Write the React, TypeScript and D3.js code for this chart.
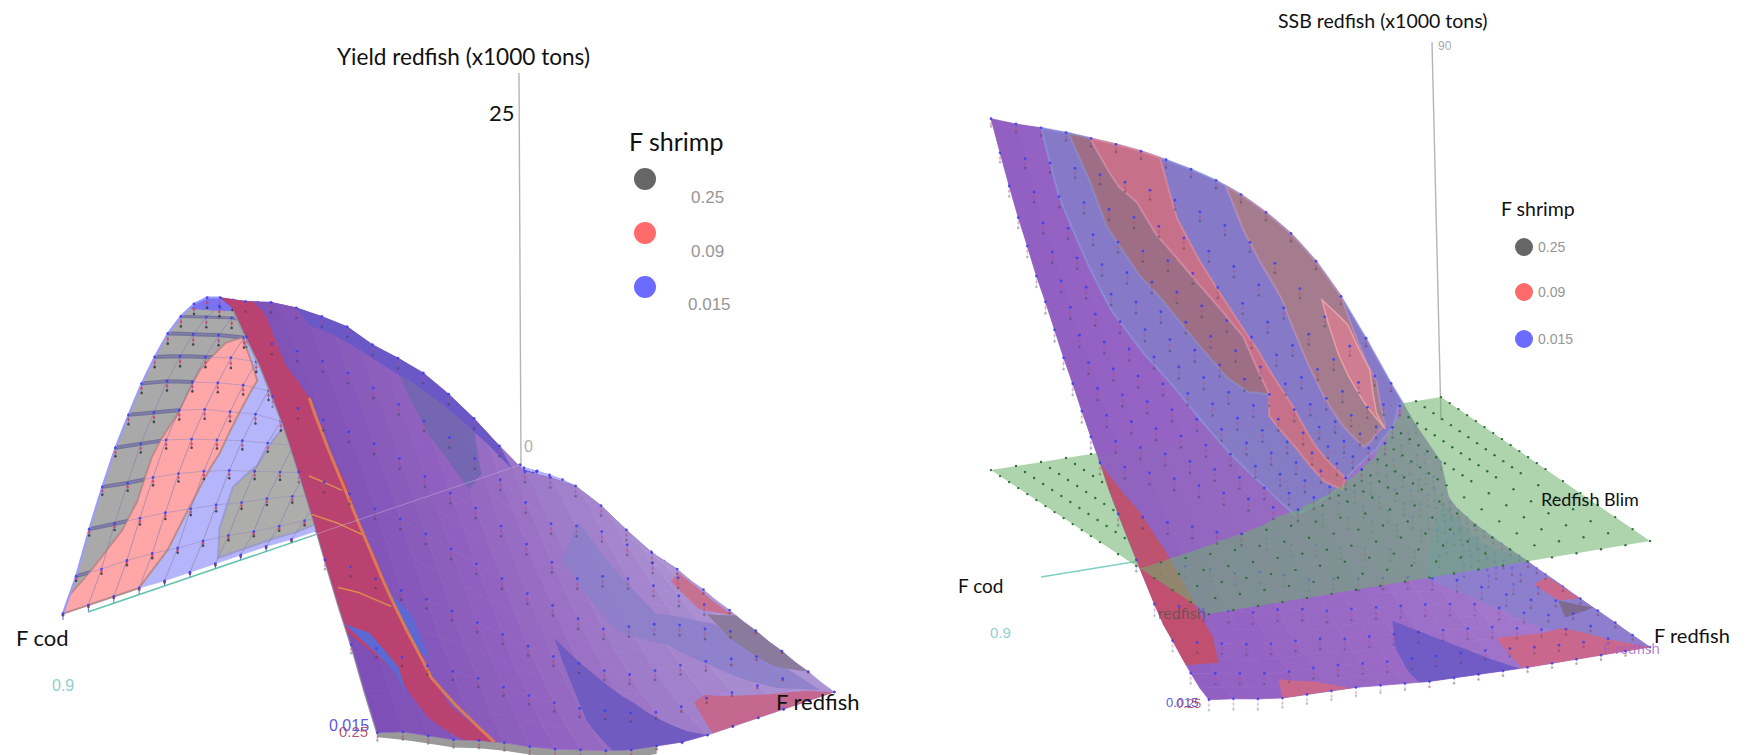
import React from "react";
import * as d3 from "d3";

// ---------- data ----------
const fRedfishSteps = d3.range(25); // grid columns along the F redfish axis
const shownSteps = (u: number) => u <= 12 || u % 2 === 0; // sampled points: fine at low F, coarser after
// Each row is one F cod level; first row F cod = 0.9, last row F cod = 0. Values: x1000 tons.
const yieldRows: number[][] = [
  [0.4,3.4,7,10.3,13.4,16.1,18.7,21,23.1,24.8,26.2,27.2,27.8,27.7,26.5,25.4,23.9,22.3,20.3,18.2,15.9,13.7,11.7,9.4,7.3],
  [0.4,3.3,6.8,10,13.1,15.7,18.3,20.5,22.5,24.2,25.5,26.5,27,26.9,25.5,24.3,22.6,21.1,19.1,17.1,14.9,12.8,10.9,8.8,6.8],
  [0.4,3.3,6.6,9.8,12.8,15.3,17.7,19.9,21.9,23.6,24.9,25.8,26.4,26,24.5,23.1,21.3,19.7,17.8,15.8,13.6,11.6,9.8,7.8,6],
  [0.4,3.2,6.4,9.5,12.3,14.8,17.1,19.3,21.2,22.7,24.1,25,25.5,25,23.3,21.9,20,18.3,16.3,14.4,12.3,10.4,8.7,6.8,5.2],
  [0.3,3,6.1,9.1,11.7,14.1,16.4,18.5,20.3,21.7,23,23.9,24.4,23.8,22,20.6,18.7,17,15.1,13.2,11.2,9.4,7.8,6.1,4.6],
  [0.3,2.9,5.8,8.6,11.1,13.4,15.5,17.4,19.2,20.6,21.8,22.6,23.2,22.3,20.5,19.1,17.2,15.5,13.6,11.8,9.9,8.2,6.8,5.2,3.9],
  [0.3,2.7,5.4,8,10.4,12.4,14.5,16.3,18,19.2,20.3,21.1,21.5,20.7,18.9,17.4,15.5,13.9,12.1,10.3,8.6,7,5.7,4.3,3.1],
  [0.3,2.4,5.1,7.4,9.7,11.6,13.6,15.2,16.7,18,19,19.7,20.1,19.2,17.3,15.8,13.9,12.3,10.6,8.9,7.3,5.8,4.6,3.4,2.4],
  [0.3,2.2,4.7,6.8,9,10.7,12.4,14.1,15.4,16.5,17.5,18.2,18.6,17.5,15.7,14.1,12.4,10.7,9.1,7.5,6,4.7,3.6,2.6,1.8],
  [0.2,2,4.2,6.2,8.1,9.7,11.2,12.6,13.9,14.9,15.8,16.3,16.7,15.6,13.8,12.4,10.7,9.2,7.6,6.2,4.8,3.7,2.7,1.8,1.2],
  [0.2,1.8,3.7,5.4,7,8.5,9.8,11,12.1,13.1,13.8,14.3,14.6,13.6,11.9,10.5,9,7.6,6.3,5,3.8,2.8,2,1.3,0.7],
  [0.2,1.5,3.1,4.6,5.9,7.1,8.3,9.3,10.2,11,11.6,12,12.3,11.4,9.9,8.7,7.3,6.1,4.9,3.8,2.8,2,1.3,0.8,0.4],
  [0.1,1.2,2.6,3.8,4.9,5.8,6.7,7.7,8.4,9,9.5,9.9,10.1,9.2,8,6.9,5.7,4.7,3.7,2.8,2,1.3,0.8,0.4,0.1],
  [0.1,1.1,2.3,3.4,4.4,5.3,6.2,6.9,7.6,8.2,8.6,9,9.2,8.3,7.3,6.3,5.3,4.3,3.3,2.5,1.7,1.1,0.6,0.3,0],
  [0.1,1,2,3,3.9,4.7,5.4,6.1,6.7,7.2,7.6,7.9,8.1,7.4,6.4,5.5,4.6,3.8,2.9,2.2,1.5,1,0.6,0.2,0],
  [0.1,0.8,1.6,2.3,3,3.6,4.2,4.7,5.2,5.6,5.9,6.1,6.3,5.7,5,4.3,3.6,2.9,2.3,1.7,1.2,0.8,0.4,0.2,0],
  [0.1,0.5,1.1,1.5,2,2.4,2.8,3.2,3.5,3.7,3.9,4.1,4.2,3.8,3.3,2.9,2.4,1.9,1.5,1.1,0.8,0.5,0.3,0.1,0],
  [0,0.3,0.6,0.8,1.1,1.3,1.5,1.7,1.8,2,2.1,2.2,2.2,2,1.8,1.5,1.3,1,0.8,0.6,0.4,0.3,0.2,0.1,0],
  [0,0.1,0.1,0.2,0.3,0.3,0.4,0.4,0.5,0.5,0.5,0.5,0.6,0.5,0.5,0.4,0.4,0.3,0.3,0.2,0.2,0.1,0.1,0,0],
];
const ssbRows: number[][] = [
  [89.3,83.9,78.7,73.8,69.5,64.9,61.1,56.9,52.7,48.9,44.8,41,37.2,33.1,29.7,26.4,23.2,20.1,17,14.2,12.3,10.3,8.4,6.7,5.6],
  [87.5,82,76.8,72,67.6,63.2,59.3,55.1,51,47.2,43.2,39.4,35.6,31.7,28.3,25,21.9,18.8,15.8,13.2,11.2,9.4,7.6,6,5],
  [86,80.4,75.1,70.2,65.7,61.2,57.2,53,49,45.2,41.2,37.4,33.7,29.9,26.5,23.5,20.4,17.4,14.5,12,10.2,8.4,6.8,5.3,4.2],
  [84.3,78.6,73.2,68.2,63.6,59.1,55,50.9,46.9,43.1,39.1,35.4,31.8,28.2,24.9,22,19,16.1,13.4,11,9.3,7.6,6,4.6,3.6],
  [82.4,76.6,71.1,66,61.3,56.8,52.7,48.6,44.6,40.8,36.9,33.2,29.7,26.3,23.1,20.4,17.5,14.8,12.3,10.2,8.6,7,5.6,4.4,3.5],
  [80.5,74.4,68.8,63.5,58.7,54.2,50,45.9,42,38.2,34.4,30.9,27.5,24.6,22,19.5,17,14.5,12.1,10,8.4,6.9,5.5,4.4,3.4],
  [78.4,72.1,66.3,60.9,56,51.4,47.2,43.1,39.2,35.5,31.9,28.6,25.6,23,20.3,17.9,15.6,13.4,11.4,9.6,8,6.6,5.3,4.2,3.3],
  [76,69.4,63.3,57.7,52.6,47.9,43.6,39.5,35.7,32.1,28.8,25.8,23.2,20.7,18.3,16.1,14,12.1,10.3,8.7,7.2,5.9,4.8,3.8,2.9],
  [73.4,66.4,60,54.2,49,44.4,40.1,36.2,32.6,29.4,26.5,24,22,19.7,17.5,15.4,13.4,11.6,9.9,8.3,6.9,5.6,4.4,3.4,2.5],
  [70.5,63,56.3,50.4,45.1,40.5,36.4,32.8,29.6,26.8,24.5,22.4,20.2,18.2,16.3,14.4,12.6,11,9.4,7.9,6.6,5.3,4.2,3.1,2.1],
  [67,59,52,46,40.9,36.5,32.7,29.4,26.7,24.4,22.5,20.6,18.9,17.1,15.3,13.6,12,10.4,8.9,7.5,6.2,5,3.9,2.9,2],
  [62.8,54.2,46.8,40.8,35.8,31.8,28.6,26,23.9,22.3,20.8,19.2,17.6,16,14.4,12.8,11.3,9.8,8.4,7.1,5.8,4.7,3.7,2.7,1.9],
  [58,48.6,41,35.4,31,27.7,25.1,23.3,22,20.5,19,17.5,16,14.6,13.1,11.7,10.3,9,7.7,6.5,5.3,4.3,3.4,2.5,1.8],
  [51.9,42.4,35.4,30.4,27,24.6,23,21.5,20,18.5,17,15.6,14.2,12.9,11.6,10.4,9.2,8,6.9,5.8,4.8,3.9,3,2.3,1.7],
  [44.4,36,30.2,26.6,24,22,20,18.2,16.4,14.9,13.5,12.3,11.1,10,9,8,7.1,6.2,5.4,4.6,3.8,3.1,2.5,2,1.7],
  [35.6,29.5,25.2,22,19.6,17.4,15.4,13.7,12.2,10.9,9.7,8.7,7.8,7,6.2,5.5,4.9,4.3,3.7,3.2,2.8,2.4,2.1,1.9,1.7],
  [26.2,23,19,16,13.6,11.6,10,8.7,7.6,6.7,5.9,5.3,4.7,4.2,3.8,3.4,3.1,2.8,2.5,2.3,2.1,2,1.9,1.8,1.7],
  [17.4,13,9.8,7.6,6,5,4.3,3.8,3.4,3.1,2.9,2.7,2.6,2.5,2.4,2.3,2.2,2.1,2,2,1.9,1.9,1.8,1.8,1.7],
  [9.6,3,2.6,2.4,2.2,2.1,2,2,2,2,2,1.9,1.9,1.9,1.9,1.8,1.8,1.8,1.8,1.8,1.8,1.7,1.7,1.7,1.7],
];
// how far the F shrimp 0.09 and 0.25 surfaces lie under the 0.015 surface, per F redfish step
const yieldGap09 = [0.05,0.15,0.2,0.25,0.3,0.3,0.3,0.35,0.35,0.35,0.35,0.35,0.35,0.35,0.35,0.35,0.35,0.35,0.35,0.35,0.35,0.3,0.3,0.3,0.3];
const yieldGap25 = [0.1,0.3,0.4,0.5,0.55,0.6,0.6,0.65,0.65,0.65,0.65,0.65,0.65,0.65,0.65,0.65,0.65,0.65,0.65,0.65,0.6,0.6,0.55,0.55,0.5];
const ssbGap09 = [1,1,1,1,1,1.1,1.1,1.1,1.1,1.1,1.1,1.1,1.1,1.1,1.1,1.1,1.1,1.1,1.1,1.1,1,1,1,1,1];
const ssbGap25 = [1.5,1.8,2,2,2.1,2.1,2.2,2.2,2.2,2.2,2.2,2.2,2.2,2.2,2.2,2.2,2.2,2.2,2.2,2.2,2,2,2,2,2];
const blimLevel = 22;
const shrimpLevels = ["0.25", "0.09", "0.015"];
const shrimpColors = ["#666666", "#ff6b6b", "#6b6bff"];

// regions in (F redfish step, F cod row) where one F shrimp surface shows through
type P = [number, number];
const yBackGray1: P[] = [[0,0],[.5,0],[1.8,1.4],[2.45,1.65],[3.6,1.65],[4.9,2],[6.5,2.05],[7.7,2.45],[8,2.95],[12,3],[12,0]];
const yBackPink: P[] = [[0,0],[.5,0],[1.8,1.4],[2.45,1.65],[3.6,1.65],[4.9,2],[6.5,2.05],[7.7,2.45],[8,2.95],[6.3,4.4],[3.6,4.33],[2.2,3.97],[1,3.6],[0,3]];
const yBackGray2: P[] = [[.2,6],[1.3,5.5],[2.5,5.4],[3.2,6],[4.6,6.2],[6,7],[8,8],[8,10],[.6,9.8],[.4,9]];
const yBackBlue: P[] = [[8.5,3],[12,3],[12,18],[8.5,18]];
const yBackRim: P[] = [[9.6,0],[12,0],[12,3],[9.6,3]];
const yCrimson: P[] = [[12,0],[21.7,0],[22.5,1.5],[23.5,2.3],[24,3.4],[24,4.6],[23,3.4],[22.3,3],[21.5,2.7],[20.3,2.4],[19.5,2.3],[18.8,2],[17.7,2],[17,1.7],[15.5,1.7],[14.7,1.2],[12,1.3]];
const yBlue1: P[] = [[21.5,0],[22.5,1.5],[23,1.7],[22.3,1.7],[21.6,0.9]];
const yBlue2: P[] = [[20.2,2.4],[21.5,2.7],[21.8,3.2],[20.6,3.1]];
const yMid: P[] = [[19.3,9.4],[20.2,10.3],[21.5,11.4],[23.5,12.5],[24,13],[24,9.25],[22.5,9],[21,9.2]];
const yHump: P[] = [[13.8,13.2],[15.2,13.5],[17.5,14.3],[17.5,16.6],[21.5,17.5],[23.5,17.7],[22.5,16.5],[20.2,15],[19,14],[18.2,12.5],[16.3,11.9],[15.5,11.6]];
const yRed1: P[] = [[13,17.6],[16.5,17.8],[16.5,16.5],[15,16.2]];
const ySlate: P[] = [[16.5,18],[22,18],[21,17.2],[18.5,16.7],[16.8,16.7]];
const yRed2: P[] = [[22,13.5],[21.8,14],[22.7,16],[23.3,17.3],[24,18],[24,13.2]];
const yRidge: P[] = [[12,3],[13,3],[13,11],[12,11]];
const yPatch: P[] = [[13,6.5],[13,9.5],[14.5,9],[15.5,8],[14.5,7]];
const yOrange: P[] = [[15.5,1.7],[17,1.7],[18.8,2],[20.3,2.4],[22.3,3],[24,4.6]];
const yStreaks: P[][] = [[[18,0.4],[18,1.7]],[[19,0],[19,2]],[[20.6,0.2],[20.6,2.3]]];

const sBlue: P[] = [[0,2],[2,2],[4.2,2.4],[5.7,2.8],[7,3.6],[8,4.5],[9,5.2],[10,6],[11,7.1],[12.4,7.8],[10.4,10],[5.75,13.4],[3,15],[.5,16.2],[0,16.5]];
const sBrown1: P[] = [[0,3.1],[1.3,3.5],[2.6,3.7],[3.9,4.5],[4.5,5.2],[5.6,6.2],[6.4,7.2],[6.5,8],[6,9],[4.2,8.6],[3.8,8],[3.3,7.2],[2.8,6.5],[2.3,5.8],[1.5,5.3],[1.2,4.7],[.8,4.4],[0,3.96]];
const sPink1: P[] = [[0,3.96],[.8,4.4],[1.2,4.7],[1.5,5.3],[2.3,5.8],[2.8,6.5],[3.3,7.2],[3.8,8],[4.2,8.6],[6,9],[7.1,8.6],[8.1,9.3],[9.7,9.9],[10,10.5],[9,11],[7.6,10.4],[5.9,10],[4.35,9.1],[3.35,8.2],[2.45,7.45],[1.5,6.9],[0,6.76]];
const sBrown2: P[] = [[0,9.4],[.8,9.8],[1.3,10.3],[1.8,11],[2.5,11.3],[3.5,11.7],[5,12.3],[6,12.8],[5.5,13.2],[3.3,14.6],[1.2,15],[0,14]];
const sLens: P[] = [[.7,13],[.5,14.1],[1,14.8],[2.9,14.4],[3.6,14.5],[3,14],[1.7,13.3]];
const sCrimson: P[] = [[12,0],[13.8,.95],[15.4,1.4],[17.5,1.7],[19.5,1.8],[21.3,1.4],[21.5,0]];
const sLowMid: P[] = [[19,9.3],[20,10.1],[21.7,11.3],[24,12.7],[24,8.6],[23,8.5],[21,8.7]];
const sLowRed: P[] = [[21,12.8],[20.5,14.8],[19.8,16],[22.5,17.2],[24,18],[24,12.8]];
const sLowRed2: P[] = [[13.5,17],[12.5,17.9],[16,18],[16,17.1]];
const sLowBrown: P[] = [[16,17.1],[17.5,18],[18.5,16.5]];
const sLowRed3: P[] = [[22.5,3.4],[23,4.6],[24,5.8],[24,3]];
const sLowBlue: P[] = [[16,11.7],[18.2,14],[21,16],[24,18],[9.4,18],[6,16]];

// ---------- geometry ----------
function makeChart(rows: number[][], A: P, O: P, uStepA: number, uStepO: number, uStepY: number, zTop: number, zPx: number) {
  const stepX = d3.scaleLinear().domain([0, 18]).range([uStepA, uStepO]);
  const colY = d3.scaleLinear().domain([0, 24]).range([0, uStepY * 24]);
  const rowX = d3.scaleLinear().domain([0, 18]).range([A[0], O[0]]);
  const rowY = d3.scaleLinear().domain([0, 18]).range([A[1], O[1]]);
  const zY = d3.scaleLinear().domain([0, zTop]).range([0, -zPx]);
  const z = (u: number, d: number) => {
    const u0 = Math.min(23, Math.floor(u)), d0 = Math.min(17, Math.floor(d));
    const a = u - u0, b = d - d0;
    return (
      rows[d0][u0] * (1 - a) * (1 - b) + rows[d0][u0 + 1] * a * (1 - b) +
      rows[d0 + 1][u0] * (1 - a) * b + rows[d0 + 1][u0 + 1] * a * b
    );
  };
  const ground = (u: number, d: number, zz: number): P => [u * stepX(d) + rowX(d), colY(u) + rowY(d) + zY(zz)];
  const project = (u: number, d: number, drop = 0): P => ground(u, d, z(u, d) - drop);
  return { z, project, ground };
}
const yieldChart = makeChart(yieldRows, [63, 620], [520, 465], 13.1, 13.1, 9.46, 25, 392);
const ssbChart = makeChart(ssbRows, [991, 585], [1441, 512], 9.08, 8.71, 6, 90, 470);
type Chart = typeof yieldChart;

const linePath = d3.line();
const closed = (pts: P[]) => (linePath(pts) as string) + "Z";
function dense(poly: P[], close = true): P[] {
  const out: P[] = [];
  const n = close ? poly.length : poly.length - 1;
  for (let i = 0; i < n; i++) {
    const a = poly[i], b = poly[(i + 1) % poly.length];
    const steps = Math.max(1, Math.ceil(Math.hypot(b[0] - a[0], b[1] - a[1]) / 0.5));
    for (let k = 0; k < steps; k++) out.push([a[0] + ((b[0] - a[0]) * k) / steps, a[1] + ((b[1] - a[1]) * k) / steps]);
  }
  if (!close) out.push(poly[poly.length - 1]);
  return out;
}
const region = (c: Chart, poly: P[]) => closed(dense(poly).map(([u, d]) => c.project(u, d)));
const trace = (c: Chart, poly: P[]) => linePath(dense(poly, false).map(([u, d]) => c.project(u, d))) as string;
const rowsIdx = d3.range(18);

function Cells({ c, from, to, color }: { c: Chart; from: number; to: number; color: (d: number) => string }) {
  return (
    <g>
      {rowsIdx.map((d) =>
        d3.range(from, to).map((u) => {
          const f = color(d + 0.5);
          return (
            <path key={u + "-" + d} d={closed([c.project(u, d), c.project(u + 1, d), c.project(u + 1, d + 1), c.project(u, d + 1)])}
              fill={f} stroke={f} strokeWidth={0.7} />
          );
        })
      )}
    </g>
  );
}

function Dots({ c, gap09, gap25, keep, op, blue = () => 0.85 }: { c: Chart; gap09: number[]; gap25: number[]; keep: (u: number, d: number) => boolean; op: number; blue?: (u: number, d: number) => number }) {
  const items: React.ReactNode[] = [];
  for (let d = 0; d <= 18; d++)
    for (const u of fRedfishSteps) {
      if (!shownSteps(u) || !keep(u, d)) continue;
      const zz = c.z(u, d);
      const p0 = c.project(u, d);
      const p1 = c.project(u, d, Math.min(gap09[u], zz * 0.5));
      const p2 = c.project(u, d, Math.min(gap25[u], zz * 0.5));
      items.push(
        <g key={u + "_" + d}>
          <line x1={p0[0]} y1={p0[1]} x2={p2[0]} y2={p2[1]} stroke="#6a6ab0" strokeWidth={0.6} opacity={op} />
          <circle cx={p2[0]} cy={p2[1]} r={1.3} fill="#303030" opacity={op * 0.8} />
          <circle cx={p1[0]} cy={p1[1]} r={1.3} fill="#d8405a" opacity={op * 0.8} />
          <circle cx={p0[0]} cy={p0[1]} r={1.4} fill="#3c3cf0" opacity={blue(u, d)} />
        </g>
      );
    }
  return <g>{items}</g>;
}

// ---------- left chart ----------
const yieldColor = d3.scaleLinear<string>().domain([0, 9, 18]).range(["#7c4db6", "#9669c2", "#ae98d6"]);
function YieldSurface() {
  const c = yieldChart;
  const edge: P[] = [
    ...d3.range(13, 25).map((u) => c.project(u, 0)),
    ...d3.range(1, 12).map((d) => c.project(24, d)),
    ...d3.range(11, 0, -1).map((d) => c.project(24, d, 0.5)),
    ...d3.range(24, 12, -1).map((u) => c.project(u, 0, 0.3)),
  ];
  const A = c.ground(0, 0, 0), O = c.ground(0, 18, 0);
  return (
    <g filter="url(#soft)">
      <line x1={519} y1={73} x2={O[0] + 1} y2={O[1]} stroke="#b5b5b5" strokeWidth={1.4} />
      <line x1={A[0] + 25} y1={A[1] - 8} x2={O[0]} y2={O[1]} stroke="#63c4ae" strokeWidth={1.5} />
      {d3.range(0, 11).map((d) => {
        const g = c.ground(0, d, 0), s = c.project(0, d);
        return <line key={d} x1={g[0]} y1={g[1]} x2={s[0]} y2={s[1]} stroke="#5b6be0" strokeWidth={1} />;
      })}
      <Cells c={c} from={0} to={12} color={() => "#b5b5fb"} />
      <path d={region(c, yBackGray1)} fill="#aaa9a9" />
      <path d={region(c, yBackPink)} fill="#ffa6a8" stroke="#b98c8c" strokeWidth={2} />
      <path d={region(c, yBackGray2)} fill="#adadab" stroke="#9c9ccc" strokeWidth={2} />
      <path d={region(c, yBackBlue)} fill="#6e60dc" />
      <clipPath id="gray1clip"><path d={region(c, yBackGray1)} /></clipPath>
      <g>
        {d3.range(1, 12).map((u) => (
          <path key={"t" + u} clipPath="url(#gray1clip)" fill="none" stroke="#74749c" strokeWidth={u < 9 ? 4 : 3}
            d={trace(c, [[u, 0], [u, 6]])} />
        ))}
        {d3.range(1, 12).map((u) => (
          <path key={"l" + u} fill="none" stroke="#9a8ab8" strokeWidth={0.7} opacity={0.8} d={trace(c, [[u, 0], [u, 10]])} />
        ))}
        {d3.range(1, 11).map((d) => (
          <path key={"v" + d} fill="none" stroke="#8a80a8" strokeWidth={0.8} opacity={0.8} d={trace(c, [[0, d], [11, d]])} />
        ))}
      </g>
      <path d={region(c, yBackRim)} fill="#7a72ee" />
      <path d={trace(c, [[0, 0], [12, 0]])} fill="none" stroke="#9a9aff" strokeWidth={2} />
      <Dots c={c} gap09={yieldGap09} gap25={yieldGap25} keep={(u) => u <= 11} op={1} />
      <path d={closed(edge)} fill="#9a9a9a" />
      <Cells c={c} from={12} to={24} color={(d) => yieldColor(d)} />
      <path d={region(c, yRidge)} fill="#6b58c6" />
      <path d={region(c, yPatch)} fill="#6d66ae" opacity={0.8} />
      <path d={region(c, yCrimson)} fill="#b9436f" />
      <path d={region(c, yBlue1)} fill="#5b69d4" />
      <path d={region(c, yBlue2)} fill="#5b69d4" />
      {yStreaks.map((s, i) => <path key={i} d={trace(c, s)} fill="none" stroke="#dd8a50" strokeWidth={1.5} />)}
      <path d={trace(c, yOrange)} fill="none" stroke="#dd7a52" strokeWidth={3} />
      <path d={region(c, yHump)} fill="#8d80ca" opacity={0.9} />
      <path d={region(c, yMid)} fill="#6f5cc0" />
      <path d={region(c, yRed1)} fill="#c67190" />
      <path d={region(c, ySlate)} fill="#8a7a9c" />
      <path d={region(c, yRed2)} fill="#c5688f" />
      <line x1={c.ground(0, 9.5, 0)[0]} y1={c.ground(0, 9.5, 0)[1]} x2={O[0]} y2={O[1]} stroke="#c4a8dc" strokeWidth={1} opacity={0.55} />
      <Dots c={c} gap09={yieldGap09} gap25={yieldGap25} keep={(u) => u >= 12} op={0.45} />
    </g>
  );
}

// ---------- right chart ----------
const ssbColor = d3.scaleLinear<string>().domain([0, 9, 18]).range(["#9160c2", "#9a6bc6", "#a880d0"]);
function SsbLayer() {
  const c = ssbChart;
  return (
    <g>
      <Cells c={c} from={0} to={24} color={(d) => ssbColor(d)} />
      <path d={region(c, sLowBlue)} fill="#8d7fce" />
      <path d={region(c, sBlue)} fill="#867ac8" stroke="#8f9fe6" strokeOpacity={0.55} strokeWidth={2} />
      <path d={region(c, sBrown1)} fill="#9f6f86" stroke="#8f8fc0" strokeOpacity={0.7} strokeWidth={2} />
      <path d={region(c, sPink1)} fill="#c7708a" stroke="#d98a9e" strokeOpacity={0.8} strokeWidth={2} />
      <path d={region(c, sBrown2)} fill="#a47d8e" stroke="#b98fb8" strokeOpacity={0.8} strokeWidth={2} />
      <path d={region(c, sLens)} fill="#cf7f90" stroke="#e7a0a8" strokeWidth={1.5} />
      <path d={region(c, sCrimson)} fill="#c0506f" />
      <path d={region(c, sLowMid)} fill="#6f5cc4" />
      <path d={region(c, sLowRed)} fill="#c9688c" />
      <path d={region(c, sLowRed2)} fill="#c9688c" />
      <path d={region(c, sLowBrown)} fill="#7d6a8e" />
      <path d={region(c, sLowRed3)} fill="#c9688c" />
    </g>
  );
}
function highPart(c: Chart, level: number) {
  const parts: string[] = [];
  const clip = (tri: P[]) => {
    const out: P[] = [];
    tri.forEach((a, i) => {
      const b = tri[(i + 1) % tri.length];
      const za = c.z(a[0], a[1]) - level, zb = c.z(b[0], b[1]) - level;
      if (za >= 0) out.push(a);
      if (za >= 0 !== zb >= 0) {
        const t = za / (za - zb);
        out.push([a[0] + (b[0] - a[0]) * t, a[1] + (b[1] - a[1]) * t]);
      }
    });
    return out;
  };
  for (let d = 0; d < 18; d++)
    for (let u = 0; u < 24; u++) {
      const t1: P[] = [[u, d], [u + 1, d], [u + 1, d + 1]];
      const t2: P[] = [[u, d], [u + 1, d + 1], [u, d + 1]];
      [t1, t2].forEach((t) => {
        const r = clip(t);
        if (r.length > 2) parts.push(closed(r.map(([a, b]) => c.project(a, b))));
      });
    }
  return parts.join("");
}
function SsbSurface() {
  const c = ssbChart;
  const level = blimLevel;
  const corners: P[] = [c.ground(0, 0, level), c.ground(24, 0, level), c.ground(24, 18, level), c.ground(0, 18, level)];
  const axisStart = c.ground(0, 2, 0), O = c.ground(0, 18, 0);
  const planeDots: React.ReactNode[] = [];
  for (let d = 0; d <= 18; d++)
    for (const u of fRedfishSteps) {
      if (!shownSteps(u)) continue;
      const p = c.ground(u, d, level);
      planeDots.push(<circle key={u + "/" + d} cx={p[0]} cy={p[1]} r={1.2} fill="#2e6e3a" />);
    }
  return (
    <g filter="url(#soft)">
      <line x1={1432} y1={42} x2={1441} y2={420} stroke="#b5b5b5" strokeWidth={1.4} />
      <line x1={axisStart[0]} y1={axisStart[1]} x2={O[0]} y2={O[1]} stroke="#7fd0c4" strokeWidth={1.5} />
      <SsbLayer />
      <Dots c={c} gap09={ssbGap09} gap25={ssbGap25} keep={(u, d) => c.z(u, d) < level} op={0.3} blue={(u) => (u < 16 ? 0.35 : 0.8)} />
      <path d={closed(corners)} fill="#6cb16c" opacity={0.55} />
      {planeDots}
      <clipPath id="highclip"><path d={highPart(c, level)} /></clipPath>
      <g clipPath="url(#highclip)" opacity={0.94}><SsbLayer /></g>
      <Dots c={c} gap09={ssbGap09} gap25={ssbGap25} keep={(u, d) => c.z(u, d) >= level} op={0.4} />
    </g>
  );
}

const note = "Lato, 'Open Sans', sans-serif";
const tick = "'Liberation Sans', Arial, sans-serif";
function Legend({ title, tx, ty, tSize, cx, ys, r, lx, lys, lSize }: { title: string; tx: number; ty: number; tSize: number; cx: number; ys: number[]; r: number; lx: number[]; lys: number[]; lSize: number }) {
  return (
    <g>
      <text x={tx} y={ty} fontFamily={note} fontSize={tSize} fill="#111">{title}</text>
      {shrimpLevels.map((s, i) => (
        <g key={s}>
          <circle cx={cx} cy={ys[i]} r={r} fill={shrimpColors[i]} />
          <text x={lx[i]} y={lys[i]} fontFamily={tick} fontSize={lSize} fill="#969696">{s}</text>
        </g>
      ))}
    </g>
  );
}

export default function App() {
  return (
    <svg width={1747} height={755} viewBox="0 0 1747 755" style={{ position: "absolute", left: 0, top: 0, background: "#fff" }}>
      <defs>
        <filter id="soft" x="0" y="0" width="100%" height="100%" filterUnits="userSpaceOnUse" primitiveUnits="userSpaceOnUse">
          <feGaussianBlur stdDeviation={0.55} />
        </filter>
      </defs>
      <YieldSurface />
      <SsbSurface />
      <text x={337} y={65} fontFamily={note} fontSize={22.6} fill="#111">Yield redfish (x1000 tons)</text>
      <text x={489} y={121} fontFamily={note} fontSize={22} fill="#111">25</text>
      <text x={524} y={452} fontFamily={tick} fontSize={16} fill="#b0b0b0">0</text>
      <Legend title="F shrimp" tx={629} ty={151} tSize={25} cx={645} ys={[179, 233, 287]} r={11} lx={[691, 691, 688]} lys={[203, 257, 310]} lSize={17} />
      <text x={16} y={646} fontFamily={note} fontSize={22} fill="#111">F cod</text>
      <text x={52} y={691} fontFamily={tick} fontSize={16} fill="#8fd0cc">0.9</text>
      <text x={776} y={710} fontFamily={note} fontSize={22} fill="#111">F redfish</text>
      <text x={329} y={731} fontFamily={tick} fontSize={16} fill="#5a5ae8">0.015</text>
      <text x={339} y={737} fontFamily={tick} fontSize={15} fill="#b03a55" opacity={0.85}>0.25</text>

      <text x={1278} y={28} fontFamily={note} fontSize={19.5} fill="#111">SSB redfish (x1000 tons)</text>
      <text x={1438} y={50} fontFamily={tick} fontSize={12} fill="#a8a8a8">90</text>
      <Legend title="F shrimp" tx={1501} ty={216} tSize={19.5} cx={1524} ys={[247, 292, 339]} r={9} lx={[1538, 1538, 1538]} lys={[252, 297, 344]} lSize={14} />
      <text x={1541} y={506} fontFamily={note} fontSize={18} fill="#111">Redfish Blim</text>
      <text x={958} y={593} fontFamily={note} fontSize={19} fill="#111">F cod</text>
      <text x={990} y={638} fontFamily={tick} fontSize={15} fill="#8fd0cc">0.9</text>
      <text x={1654} y={643} fontFamily={note} fontSize={20} fill="#111">F redfish</text>
      <text x={1603} y={654} fontFamily={note} fontSize={15} fill="#a25fc4" opacity={0.75}>F redfish</text>
      <text x={1158} y={619} fontFamily={note} fontSize={16} fill="#3d5a3d" opacity={0.6}>redfish</text>
      <text x={1166} y={707} fontFamily={tick} fontSize={13} fill="#5a5ae8">0.015</text>
      <text x={1176} y={708} fontFamily={tick} fontSize={13} fill="#b03a55" opacity={0.8}>0.25</text>
    </svg>
  );
}
